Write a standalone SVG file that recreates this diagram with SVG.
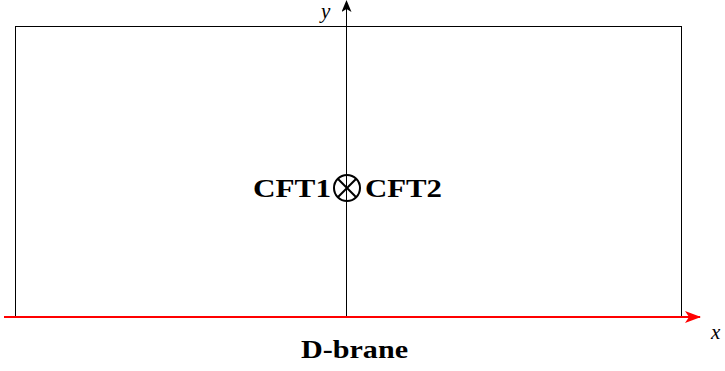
<svg xmlns="http://www.w3.org/2000/svg" width="725" height="371" viewBox="0 0 725 371">
<style>
.lbl{font-family:"Liberation Serif","DejaVu Serif",serif;font-weight:bold;font-size:25px;fill:#000}
.it{font-family:"Liberation Serif","DejaVu Serif",serif;font-style:italic;font-size:21px;fill:#000}
</style>
<defs>
<marker id="ab" markerWidth="12" markerHeight="10" refX="11" refY="5" orient="auto" markerUnits="userSpaceOnUse"><path d="M0,0 L12,5 L0,10 L3,5 Z" fill="#000"/></marker>
<marker id="ar" markerWidth="16" markerHeight="12" refX="15" refY="6" orient="auto" markerUnits="userSpaceOnUse"><path d="M0,0 L16,6 L0,12 L4,6 Z" fill="#f00"/></marker>
</defs>
<g id="box"><rect x="15.5" y="26.5" width="666" height="291" fill="none" stroke="#000" stroke-width="1"/></g>
<g id="connectors">
<line x1="346.5" y1="317" x2="346.5" y2="1" stroke="#000" stroke-width="1" marker-end="url(#ab)"/>
<line x1="4" y1="317" x2="700" y2="317" stroke="#f00" stroke-width="2.2" marker-end="url(#ar)"/>
</g>
<g id="defect">
<circle cx="347" cy="188" r="13" fill="none" stroke="#000" stroke-width="2"/>
<line x1="337.8" y1="178.8" x2="356.2" y2="197.2" stroke="#000" stroke-width="2"/>
<line x1="337.8" y1="197.2" x2="356.2" y2="178.8" stroke="#000" stroke-width="2"/>
<text class="lbl" x="253" y="197" textLength="78" lengthAdjust="spacingAndGlyphs">CFT1</text>
<text class="lbl" x="365" y="197" textLength="77" lengthAdjust="spacingAndGlyphs">CFT2</text>
</g>
<g id="labels">
<text class="it" x="321" y="18">y</text>
<text class="it" x="711" y="339">x</text>
<text class="lbl" x="301" y="358" textLength="107" lengthAdjust="spacingAndGlyphs">D-brane</text>
</g>
</svg>
